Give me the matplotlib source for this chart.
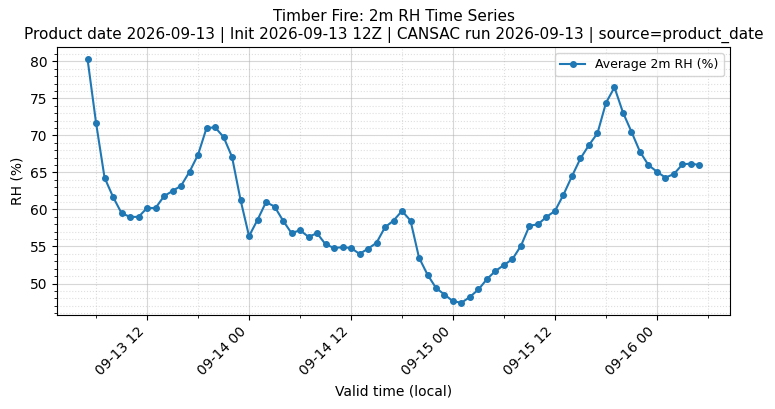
import matplotlib
matplotlib.use("Agg")
import matplotlib.pyplot as plt
import matplotlib.dates as mdates
from matplotlib.ticker import MultipleLocator
import pandas as pd

# hourly average 2m RH, local time, 09-13 05:00 -> 09-16 05:00
start = "2026-09-13 05:00"
rh_day1 = [80.3, 71.7, 64.3, 61.7, 59.5, 59.0, 59.0, 60.2, 60.2, 61.8,
           62.5, 63.2, 65.1, 67.4, 71.0, 71.1, 69.8, 67.1, 61.3]
rh_day2 = [56.4, 58.6, 61.0, 60.4, 58.5, 56.8, 57.2, 56.3, 56.8, 55.3,
           54.8, 54.9, 54.8, 54.0, 54.7, 55.5, 57.6, 58.5, 59.8, 58.5,
           53.5, 51.2, 49.4, 48.5]
rh_day3 = [47.6, 47.4, 48.2, 49.2, 50.6, 51.7, 52.5, 53.3, 55.1, 57.8,
           58.0, 59.0, 59.8, 62.0, 64.5, 66.9, 68.7, 70.3, 74.4, 76.5,
           73.1, 70.5, 67.8, 66.0]
rh_day4 = [65.1, 64.3, 64.8, 66.1, 66.2, 66.0]

rh = rh_day1 + rh_day2 + rh_day3 + rh_day4
times = pd.date_range(start, periods=len(rh), freq="h")

title = ("Timber Fire: 2m RH Time Series\n"
         "Product date 2026-09-13 | Init 2026-09-13 12Z | CANSAC run 2026-09-13 | source=product_date")

fig, ax = plt.subplots(figsize=(7.75, 4.09), dpi=100)
fig.subplots_adjust(left=0.0735, right=0.942, top=0.885, bottom=0.23)

ax.plot(times, rh, marker="o", markersize=4, linewidth=1.5, color="#1f77b4",
        label="Average 2m RH (%)")

ax.xaxis.set_major_locator(mdates.HourLocator(byhour=[0, 12]))
ax.xaxis.set_minor_locator(mdates.HourLocator(byhour=[6, 18]))
ax.xaxis.set_major_formatter(mdates.DateFormatter("%m-%d %H"))
ax.yaxis.set_minor_locator(MultipleLocator(1))

ax.grid(True, which="major", alpha=0.5)
ax.grid(True, which="minor", linestyle=":", alpha=0.4)

for lbl in ax.get_xticklabels():
    lbl.set_rotation(45)
    lbl.set_ha("right")

ax.set_title(title, fontsize=11)
ax.set_xlabel("Valid time (local)")
ax.set_ylabel("RH (%)")
ax.legend(loc="upper right", fontsize=9)

fig.savefig("out.png", dpi=100)
